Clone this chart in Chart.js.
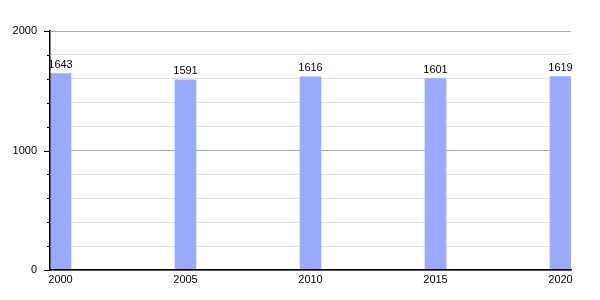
<!DOCTYPE html>
<html>
<head>
<meta charset="utf-8">
<script src="https://cdn.jsdelivr.net/npm/chart.js@4/dist/chart.umd.min.js"></script>
<style>
  body { margin: 0; background: #fff; }
  #wrap { width: 600px; height: 300px; }
</style>
</head>
<body>
<div id="wrap"><canvas id="popChart"></canvas></div>
<script>
let years = [2000, 2005, 2010, 2015, 2020];
let population = [1643, 1591, 1616, 1601, 1619];
let yTicks = [0, 1000, 2000];

let barColor = '#99aaff';
let fontFamily = '"Liberation Sans", Arial, sans-serif';

// value printed above each bar
let valueLabels = {
  id: 'valueLabels',
  afterDatasetsDraw(chart) {
    let ctx = chart.ctx;
    let meta = chart.getDatasetMeta(0);
    ctx.save();
    ctx.font = '11px ' + fontFamily;
    ctx.fillStyle = '#000';
    ctx.textAlign = 'center';
    ctx.textBaseline = 'bottom';
    meta.data.forEach(function (bar, i) {
      ctx.fillText(String(population[i]), bar.x, bar.y - 3);
    });
    ctx.restore();
  }
};

// long ticks at labelled values, short ones in between
let yTickMarks = {
  id: 'yTickMarks',
  afterDraw(chart) {
    let scale = chart.scales.y;
    let ctx = chart.ctx;
    ctx.save();
    ctx.strokeStyle = '#000';
    ctx.lineWidth = 1;
    scale.ticks.forEach(function (t) {
      let py = Math.round(scale.getPixelForValue(t.value)) + 0.5;
      let len = yTicks.includes(t.value) ? 6 : 3;
      ctx.beginPath();
      ctx.moveTo(scale.right - len, py);
      ctx.lineTo(scale.right, py);
      ctx.stroke();
    });
    ctx.restore();
  }
};

window.onload = function () {
  let ctx = document.getElementById('popChart').getContext('2d');

  window.popChart = new Chart(ctx, {
    type: 'bar',
    data: {
      datasets: [{
        data: years.map(function (y, i) { return { x: y, y: population[i] }; }),
        backgroundColor: barColor,
        borderWidth: 0,
        barThickness: 21
      }]
    },
    plugins: [valueLabels, yTickMarks],
    options: {
      responsive: true,
      maintainAspectRatio: false,
      animation: false,
      layout: { padding: { top: 31, right: 29, left: 0, bottom: 0 } },
      plugins: {
        legend: { display: false },
        tooltip: { enabled: false }
      },
      scales: {
        x: {
          type: 'linear',
          min: 1999.58,
          max: 2020.42,
          offset: false,
          afterBuildTicks: function (axis) {
            axis.ticks = years.map(function (v) { return { value: v }; });
          },
          afterFit: function (axis) { axis.height = 30; },
          grid: { display: false, drawTicks: false },
          border: { display: true, color: '#000', width: 1.5, z: 1 },
          ticks: {
            padding: 3,
            color: '#000',
            font: { family: fontFamily, size: 11 },
            maxRotation: 0,
            callback: function (v) { return String(v); }
          }
        },
        y: {
          min: 0,
          max: 2000,
          afterFit: function (axis) { axis.width = 50; },
          grid: {
            drawTicks: false,
            color: function (c) {
              return yTicks.includes(c.tick.value) ? '#aaaaaa' : '#e2e2e2';
            }
          },
          border: { display: true, color: '#000', width: 1.5, z: 1 },
          ticks: {
            stepSize: 200,
            padding: 13,
            color: '#000',
            font: { family: fontFamily, size: 11 },
            callback: function (v) { return yTicks.includes(v) ? String(v) : ''; }
          }
        }
      }
    }
  });
};
</script>
</body>
</html>
